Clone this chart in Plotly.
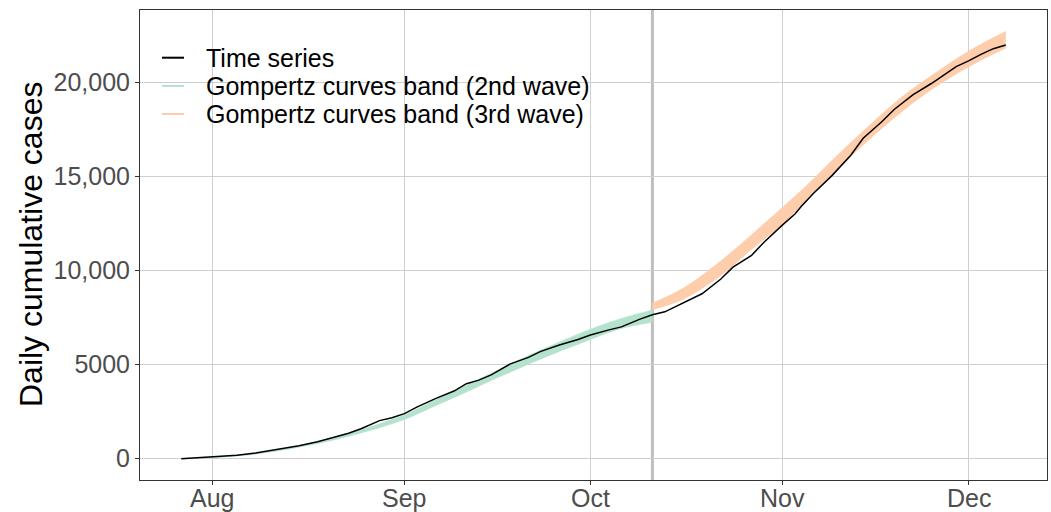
import plotly.graph_objects as go

# Observed cumulative cases (2020)
ts_dates = [
    "2020-07-27", "2020-07-29", "2020-08-01", "2020-08-03", "2020-08-05", "2020-08-08",
    "2020-08-10", "2020-08-12", "2020-08-15", "2020-08-18", "2020-08-21", "2020-08-23",
    "2020-08-25", "2020-08-28", "2020-08-30", "2020-09-01", "2020-09-03", "2020-09-06",
    "2020-09-09", "2020-09-11", "2020-09-13", "2020-09-15", "2020-09-18", "2020-09-21",
    "2020-09-23", "2020-09-26", "2020-09-29", "2020-10-01", "2020-10-04", "2020-10-06",
    "2020-10-09", "2020-10-11", "2020-10-13", "2020-10-16", "2020-10-19", "2020-10-22",
    "2020-10-24", "2020-10-27", "2020-10-29", "2020-11-01", "2020-11-03", "2020-11-04",
    "2020-11-06", "2020-11-09", "2020-11-12", "2020-11-14", "2020-11-17", "2020-11-19",
    "2020-11-22", "2020-11-25", "2020-11-27", "2020-11-29", "2020-12-01", "2020-12-03",
    "2020-12-05", "2020-12-07",
]
ts_cases = [
    0, 40, 85, 130, 180, 300,
    410, 520, 680, 895, 1150, 1350,
    1590, 2020, 2170, 2390, 2740, 3190,
    3590, 3980, 4170, 4450, 5020, 5380,
    5700, 6040, 6330, 6570, 6840, 7000,
    7410, 7645, 7800, 8270, 8760, 9530,
    10170, 10800, 11500, 12420, 13000, 13400,
    14100, 15050, 16120, 17020, 17900, 18550,
    19320, 19930, 20400, 20830, 21130, 21480,
    21780, 21980,
]

# Gompertz band, 2nd wave
w2_dates = [
    "2020-07-27", "2020-08-01", "2020-08-06", "2020-08-11", "2020-08-16", "2020-08-21",
    "2020-08-26", "2020-09-01", "2020-09-06", "2020-09-11", "2020-09-16", "2020-09-21",
    "2020-09-26", "2020-10-01", "2020-10-06", "2020-10-11",
]
w2_lower = [0, 40, 150, 360, 660, 1010, 1440, 2070, 2800, 3530, 4280, 5000, 5680, 6320, 6900, 7230]
w2_upper = [20, 90, 220, 440, 760, 1150, 1640, 2330, 3120, 3900, 4700, 5480, 6200, 6880, 7450, 7900]

# Gompertz band, 3rd wave
w3_dates = [
    "2020-10-11", "2020-10-16", "2020-10-22", "2020-10-27", "2020-11-01", "2020-11-05",
    "2020-11-09", "2020-11-14", "2020-11-20", "2020-11-25", "2020-12-01", "2020-12-07",
]
w3_lower = [7900, 8460, 9700, 11100, 12450, 13750, 15050, 16650, 18350, 19600, 20800, 21800]
w3_upper = [8270, 9060, 10500, 11900, 13350, 14550, 15850, 17400, 19150, 20350, 21650, 22700]

wave_split = "2020-10-11"

month_ticks = ["2020-08-01", "2020-09-01", "2020-10-01", "2020-11-01", "2020-12-01"]
month_labels = ["Aug", "Sep", "Oct", "Nov", "Dec"]
y_ticks = [0, 5000, 10000, 15000, 20000]
y_labels = ["0", "5000", "10,000", "15,000", "20,000"]

legend_names = ["Time series", "Gompertz curves band (2nd wave)", "Gompertz curves band (3rd wave)"]
legend_colors = ["#000000", "#B3E2CD", "#FDCDAC"]

GREEN = "#B3E2CD"
ORANGE = "#FDCDAC"
FONT = "Liberation Sans, Arial, sans-serif"
TICK_GREY = "#4D4D4D"

fig = go.Figure()


def add_band(dates, lower, upper, color):
    fig.add_trace(go.Scatter(x=dates, y=lower, mode="lines", line=dict(width=0, color=color),
                             line_shape="spline", showlegend=False, hoverinfo="skip"))
    fig.add_trace(go.Scatter(x=dates, y=upper, mode="lines", line=dict(width=0.5, color=color),
                             line_shape="spline", fill="tonexty", fillcolor=color,
                             showlegend=False, hoverinfo="skip"))


add_band(w2_dates, w2_lower, w2_upper, GREEN)
add_band(w3_dates, w3_lower, w3_upper, ORANGE)

fig.add_trace(go.Scatter(x=ts_dates, y=ts_cases, mode="lines",
                         line=dict(color="black", width=1.5), showlegend=False))

# boundary between the two waves
fig.add_shape(type="line", xref="x", yref="paper", x0=wave_split, x1=wave_split, y0=0, y1=1,
              line=dict(color="#BEBEBE", width=3), layer="between")

W, H = 1051, 512
L, R, T, B = 140, 4, 10, 32
pw, ph = W - L - R, H - T - B


def px_x(p):
    return (p - L) / pw


def px_y(p):
    return (H - B - p) / ph


# legend drawn inside the panel
row_y = [57.7, 86, 114]
for name, col, ry in zip(legend_names, legend_colors, row_y):
    fig.add_shape(type="line", xref="paper", yref="paper",
                  x0=px_x(162), x1=px_x(184), y0=px_y(ry), y1=px_y(ry),
                  line=dict(color=col, width=2), layer="above")
    fig.add_annotation(xref="paper", yref="paper", x=px_x(204), y=px_y(ry),
                       text=name, showarrow=False, xanchor="left", yanchor="middle",
                       font=dict(family=FONT, size=25, color="black"))

# month labels under the x axis
for tv, tt in zip(month_ticks, month_labels):
    fig.add_annotation(xref="x", yref="paper", x=tv, y=px_y(498), text=tt,
                       showarrow=False, xanchor="center", yanchor="middle",
                       font=dict(family=FONT, size=25, color=TICK_GREY))

# y axis title
fig.add_annotation(xref="paper", yref="paper", x=px_x(31), y=0.5, text="Daily cumulative cases",
                   textangle=-90, showarrow=False, xanchor="center", yanchor="middle",
                   font=dict(family=FONT, size=32, color="black"))

fig.update_layout(
    width=W, height=H,
    margin=dict(l=L, r=R, t=T, b=B, autoexpand=False),
    paper_bgcolor="white", plot_bgcolor="white",
    font=dict(family=FONT),
    showlegend=False,
)
fig.update_xaxes(
    type="date", range=["2020-07-20 08:24", "2020-12-13 15:36"],
    tickvals=month_ticks, showticklabels=False, automargin=False,
    showgrid=True, gridcolor="#CFCFCF", gridwidth=1,
    ticks="outside", ticklen=4, tickcolor="#333333",
    showline=True, mirror=True, linecolor="#333333", linewidth=1,
    zeroline=False,
)
fig.update_yaxes(
    range=[-1135, 23835], automargin=False,
    tickvals=y_ticks, ticktext=y_labels,
    tickfont=dict(size=25, color=TICK_GREY),
    showgrid=True, gridcolor="#CFCFCF", gridwidth=1,
    ticks="outside", ticklen=4, tickcolor="#333333",
    showline=True, mirror=True, linecolor="#333333", linewidth=1,
    zeroline=False,
)

fig.write_html("out.html")
